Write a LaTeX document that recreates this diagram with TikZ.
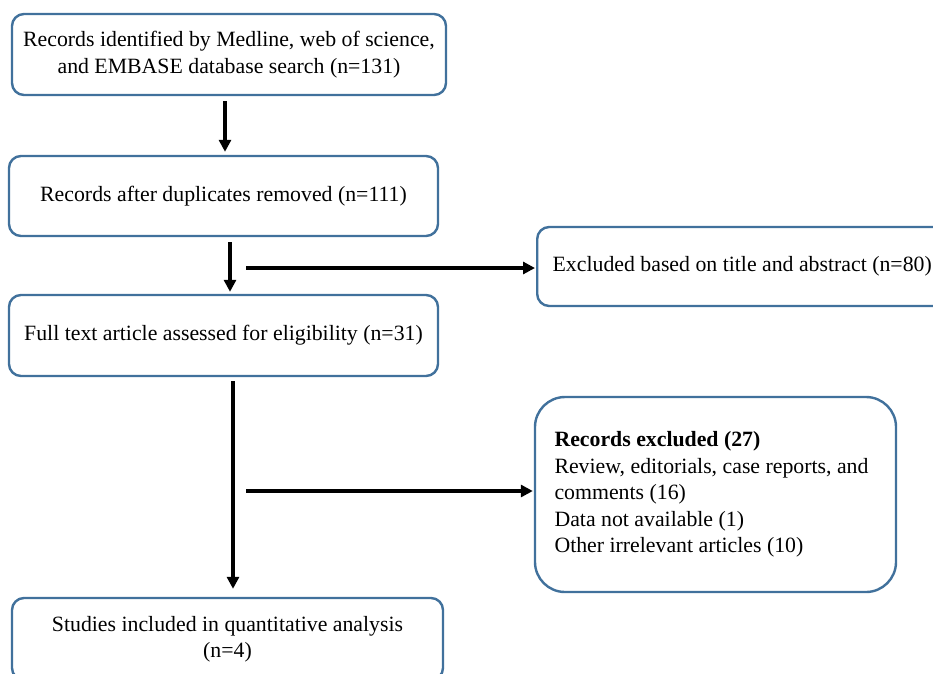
\documentclass[tikz,border=0pt]{standalone}
\usepackage{fontspec}
\setmainfont{Liberation Serif}
\usetikzlibrary{arrows.meta}
\definecolor{boxblue}{HTML}{41719C}
\begin{document}
\begin{tikzpicture}[x=1pt,y=-1pt,
  every node/.style={font=\fontsize{21.8}{26.5}\selectfont},
  box/.style={draw=boxblue,line width=2.4pt,rounded corners=12pt,fill=white,align=center,inner sep=0pt},
  arr/.style={line width=3.2pt,-{Triangle[length=12pt,width=12pt]}}]
\useasboundingbox (0,0) rectangle (933,673);
\clip (0,0) rectangle (933,673);
\node[box,minimum width=434pt,minimum height=81pt] (b1) at (229,54.5)
  {Records identified by Medline, web of science,\\and EMBASE database search (n=131)};
\node[box,minimum width=429pt,minimum height=80pt] (b2) at (223.5,196)
  {Records after duplicates removed (n=111)};
\node[box,minimum width=429pt,minimum height=81pt] (b3) at (223.5,335.5)
  {Full text article assessed for eligibility (n=31)};
\node[box,minimum width=431pt,minimum height=82pt] (b4) at (227.5,639)
  {Studies included in quantitative analysis\\(n=4)};
\node[box,minimum width=410pt,minimum height=79pt,anchor=west] (r1) at (536,266.5)
  {Excluded based on title and abstract (n=80)};
\node[box,rounded corners=30pt,minimum width=361pt,minimum height=195pt,align=left] (r2) at (715.5,494.5)
  {\textbf{Records excluded (27)}\\Review, editorials, case reports, and\rule{8pt}{0pt}\\comments (16)\\Data not available (1)\\Other irrelevant articles (10)};
\coordinate (h1) at (246,268);
\coordinate (h2) at (246,491);
\draw[arr,shorten <=5pt,shorten >=3pt] ([xshift=-4pt]b1.south) -- ([xshift=-4pt]b1.south |- b2.north);
\draw[arr,shorten <=5pt,shorten >=2pt] ([xshift=6.5pt]b2.south) -- ([xshift=6.5pt]b2.south |- b3.north);
\draw[arr,shorten <=4pt,shorten >=8pt] ([xshift=9.5pt]b3.south) -- ([xshift=9.5pt]b3.south |- b4.north);
\draw[arr,shorten >=1pt] (h1) -- (h1 -| r1.west);
\draw[arr,shorten >=1pt] (h2) -- (h2 -| r2.west);
\end{tikzpicture}
\end{document}
